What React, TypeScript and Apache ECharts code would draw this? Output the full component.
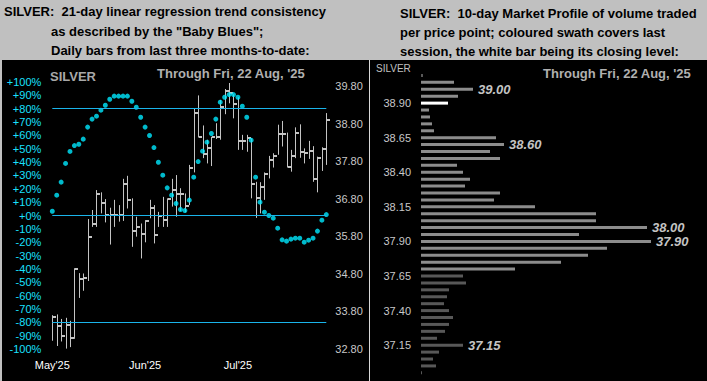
import React, { useEffect, useRef } from "react";
import * as echarts from "echarts";

// ---------- Left chart data (daily HLC bars + "Baby Blues") ----------
const monthLabelIndex = [0, 21, 42];
const monthLabels = ["May'25", "Jun'25", "Jul'25"];

const highs = [
  33.70, 33.72, 33.60, 33.63, 33.55, 34.95, 34.82, 34.81, 36.26, 36.50,
  37.03, 36.97, 36.79, 36.56, 36.77, 36.63, 37.33, 37.41, 36.81, 36.32,
  36.14, 36.23, 36.77, 36.63, 36.45, 36.85, 36.81, 37.33, 37.43, 37.08,
  36.94, 37.70, 39.21, 39.55, 38.75, 38.37, 38.45, 38.81, 39.43, 39.72,
  39.88, 39.58, 39.50, 38.50, 38.50, 38.41, 37.25, 37.24, 37.50, 37.94,
  38.01, 38.77, 38.87, 38.56, 38.10, 38.70, 38.78, 38.14, 38.34, 38.20,
  37.92, 38.17, 39.08,
];
const lows = [
  33.02, 32.88, 33.00, 32.81, 32.85, 33.07, 34.16, 34.35, 34.61, 36.05,
  36.05, 36.41, 36.17, 35.58, 36.05, 36.19, 36.21, 36.54, 35.52, 35.79,
  35.21, 35.64, 36.28, 35.61, 36.05, 36.05, 36.05, 36.59, 36.32, 36.47,
  36.44, 36.63, 37.50, 38.43, 37.88, 37.74, 37.67, 38.39, 38.37, 39.05,
  39.34, 38.94, 38.10, 38.10, 38.05, 36.81, 36.29, 36.41, 36.77, 37.34,
  37.63, 37.97, 38.19, 37.63, 37.52, 37.88, 37.89, 37.74, 37.86, 37.25,
  36.97, 37.54, 37.70,
];
const closes = [
  33.66, 33.40, 33.15, 33.45, 33.09, 34.94, 34.67, 34.68, 35.79, 36.14,
  36.92, 36.68, 36.37, 36.38, 36.38, 36.37, 37.18, 36.77, 35.95, 36.05,
  35.86, 36.21, 36.56, 35.83, 36.35, 36.23, 36.79, 37.03, 36.93, 36.93,
  36.61, 37.63, 39.09, 38.43, 37.99, 38.14, 38.44, 38.43, 39.25, 39.67,
  39.61, 39.32, 38.33, 38.34, 38.41, 37.18, 36.81, 37.12, 37.45, 37.83,
  37.95, 38.53, 38.52, 37.65, 37.95, 38.56, 38.05, 38.03, 38.08, 37.32,
  37.89, 38.12, 38.89,
];
const babyBlues = [
  3.2, 15.2, 25, 39, 48, 52.4, 53.4, 57.2, 66.2, 72.2,
  74.4, 78.9, 82.6, 87.1, 89.4, 89.4, 89.4, 89.4, 85.6, 81.1,
  73.6, 66.2, 59.9, 50.9, 39.9, 30.2, 20.7, 15.2, 9.0, 4.5,
  3.7, 11.5, 28.7, 40.4, 48.2, 54.9, 61.4, 72.2, 84.9, 88.6,
  90.6, 90.6, 88.6, 81.9, 73.6, 56.4, 28.7, 10.0, 2.5, 0.0,
  -2.0, -9.5, -18.2, -19.2, -17.7, -17.0, -17.0, -20.0, -18.5, -17.0,
  -11.7, -3.5, 0.7,
];
const trendLevels = [80, 0, -80];

// ---------- Right chart data (10-day market profile) ----------
const profileLevels = [
  "39.10", "39.05", "39.00", "38.95", "38.90", "38.85", "38.80", "38.75", "38.70", "38.65",
  "38.60", "38.55", "38.50", "38.45", "38.40", "38.35", "38.30", "38.25", "38.20", "38.15",
  "38.10", "38.05", "38.00", "37.95", "37.90", "37.85", "37.80", "37.75", "37.70", "37.65",
  "37.60", "37.55", "37.50", "37.45", "37.40", "37.35", "37.30", "37.25", "37.20", "37.15",
  "37.10", "37.05", "37.00", "36.95",
];
const profileVolumes = [
  2, 33, 52, 37, 27, 8, 9, 11, 13, 75,
  83, 69, 79, 36, 42, 49, 44, 79, 73, 114,
  175, 175, 226, 158, 230, 186, 167, 140, 94, 42,
  45, 28, 26, 23, 28, 32, 28, 24, 16, 42,
  18, 12, 15, 1,
];
const profileTickLabels = ["37.15", "37.40", "37.65", "37.90", "38.15", "38.40", "38.65", "38.90"];
const profileCallouts = ["39.00", "38.60", "38.00", "37.90", "37.15"];

const FONT = "Arial, 'Liberation Sans', sans-serif";

export default function App() {
  const ref = useRef<HTMLDivElement>(null);

  useEffect(() => {
    if (!ref.current) return;
    const chart = echarts.init(ref.current, undefined, { renderer: "svg" });

    const n = closes.length;
    const dayCategories = closes.map((_, i) => "d" + i);
    const hlc = closes.map((c, i) => [i, highs[i], lows[i], c]);

    const lastHigh = highs[n - 1];
    const lastLow = lows[n - 1];
    const lastClose = closes[n - 1];

    const levelsAsc = [...profileLevels].reverse();
    const volumesAsc = [...profileVolumes].reverse();
    const profileData = levelsAsc.map((lv, k) => {
      const p = parseFloat(lv);
      const isClose = Math.abs(p - Math.round(lastClose * 20) / 20) < 1e-6;
      const inSession = p >= lastLow - 1e-6 && p <= lastHigh + 1e-6;
      const color = isClose ? "#ffffff" : inSession ? "#8c8c8c" : "#585858";
      const item: any = { value: volumesAsc[k], itemStyle: { color } };
      if (profileCallouts.includes(lv)) {
        // nudge the two adjacent callouts apart a little so they don't collide
        const prev = levelsAsc[k + 1];
        const next = levelsAsc[k - 1];
        let dy = 0;
        if (prev && profileCallouts.includes(prev)) dy = 1.5;
        if (next && profileCallouts.includes(next)) dy = -1.5;
        item.label = {
          show: true,
          position: "right",
          distance: 5,
          offset: [0, dy],
          formatter: lv,
          color: "#c4c4c4",
          fontSize: 13,
          lineHeight: 12,
          padding: 0,
          fontWeight: "bold",
          fontStyle: "italic",
          fontFamily: FONT,
        };
      }
      return item;
    });

    const titleFont = "bold 13px " + FONT;
    const text = (t: string, x: number, y: number, font: string, fill: string) => ({
      type: "text",
      z: 10,
      style: { text: t, x, y, font, fill, verticalAlign: "middle" },
    });

    const option: any = {
      animation: false,
      backgroundColor: "#c0c0c0",
      graphic: [
        { type: "rect", z: -10, shape: { x: 2, y: 60, width: 705, height: 321 }, style: { fill: "#000000" } },
        { type: "line", z: -9, shape: { x1: 369.5, y1: 60, x2: 369.5, y2: 381 }, style: { stroke: "#d8d8d8", lineWidth: 1 } },
        text("SILVER:  21-day linear regression trend consistency", 4, 11.5, titleFont, "#000"),
        text('as described by the "Baby Blues";', 51, 31.5, titleFont, "#000"),
        text("Daily bars from last three months-to-date:", 51, 50, titleFont, "#000"),
        text("SILVER:  10-day Market Profile of volume traded", 400, 13, titleFont, "#000"),
        text("per price point; coloured swath covers last", 400, 32.5, titleFont, "#000"),
        text("session, the white bar being its closing level:", 400, 51.5, titleFont, "#000"),
        text("SILVER", 50, 76, "bold 13px " + FONT, "#a8a8a8"),
        text("Through Fri, 22 Aug, '25", 157, 73.5, "bold 13px " + FONT, "#b0b0b0"),
        text("Through Fri, 22 Aug, '25", 543, 73.5, "bold 13px " + FONT, "#b0b0b0"),
        text("SILVER", 376, 68, "10px " + FONT, "#c0c0c0"),
      ],
      grid: [
        { left: 52.3, width: 274, top: 82, height: 267, containLabel: false, outerBoundsMode: "none" },
        { left: 421, width: 280, top: 72, height: 304.3, containLabel: false, outerBoundsMode: "none" },
      ],
      xAxis: [
        {
          gridIndex: 0,
          type: "category",
          data: dayCategories,
          boundaryGap: false,
          axisLine: { show: false },
          axisTick: { show: false },
          splitLine: { show: false },
          axisLabel: {
            interval: (idx: number) => monthLabelIndex.includes(idx),
            formatter: (_v: string, idx: number) => {
              const k = monthLabelIndex.indexOf(idx);
              return k >= 0 ? monthLabels[k] : "";
            },
            color: "#ffffff",
            fontSize: 11,
            fontFamily: FONT,
            margin: 10,
          },
        },
        { gridIndex: 1, type: "value", min: 0, max: 280, show: false },
      ],
      yAxis: [
        {
          gridIndex: 0,
          type: "value",
          position: "left",
          min: -100,
          max: 100,
          interval: 10,
          axisLine: { show: false },
          axisTick: { show: false },
          splitLine: { show: false },
          axisLabel: {
            color: "#19e1ff",
            fontSize: 11,
            fontFamily: FONT,
            margin: 11,
            formatter: (v: number) => (v >= 0 ? "+" + v + "%" : v + "%"),
          },
        },
        {
          gridIndex: 0,
          type: "value",
          position: "right",
          min: 32.8,
          max: 39.907,
          interval: 1,
          axisLine: { show: false },
          axisTick: { show: false },
          splitLine: { show: false },
          axisLabel: {
            color: "#c8c8c8",
            fontSize: 11,
            fontFamily: FONT,
            margin: 9,
            formatter: (v: number) => {
              const k = v - 32.8;
              return Math.abs(k - Math.round(k)) < 1e-6 ? v.toFixed(2) : "";
            },
          },
        },
        {
          gridIndex: 1,
          type: "category",
          data: levelsAsc,
          axisLine: { show: false },
          axisTick: { show: false },
          splitLine: { show: false },
          axisLabel: {
            interval: (_idx: number, value: string) => profileTickLabels.includes(value),
            color: "#c8c8c8",
            fontSize: 11,
            fontFamily: FONT,
            margin: 10,
          },
        },
      ],
      series: [
        {
          type: "custom",
          xAxisIndex: 0,
          yAxisIndex: 1,
          z: 3,
          data: hlc,
          encode: { x: 0, y: [1, 2, 3] },
          renderItem: (_params: any, api: any) => {
            const i = api.value(0);
            const pH = api.coord([i, api.value(1)]);
            const pL = api.coord([i, api.value(2)]);
            const pC = api.coord([i, api.value(3)]);
            const x = Math.round(pH[0]) + 0.5;
            return {
              type: "group",
              children: [
                {
                  type: "line",
                  shape: { x1: x, y1: pH[1], x2: x, y2: pL[1] },
                  style: { stroke: "#c4c4c4", lineWidth: 1 },
                },
                {
                  type: "rect",
                  shape: { x: x + 0.5, y: Math.round(pC[1]) - 1, width: 3, height: 2 },
                  style: { fill: "#c4c4c4" },
                },
              ],
            };
          },
        },
        {
          type: "scatter",
          xAxisIndex: 0,
          yAxisIndex: 0,
          z: 4,
          data: babyBlues,
          symbol: "circle",
          symbolSize: 5,
          itemStyle: { color: "#00e8ff" },
          emphasis: { disabled: true },
          markLine: {
            silent: true,
            symbol: "none",
            label: { show: false },
            lineStyle: { color: "#1ab4ea", width: 1, type: "solid" },
            data: trendLevels.map((v) => ({ yAxis: v })),
          },
        },
        {
          type: "bar",
          xAxisIndex: 1,
          yAxisIndex: 2,
          barWidth: 3,
          data: profileData,
        },
      ],
    };

    chart.setOption(option);
    return () => chart.dispose();
  }, []);

  return (
    <div
      ref={ref}
      style={{ position: "absolute", left: 0, top: 0, width: 707, height: 381 }}
    />
  );
}
